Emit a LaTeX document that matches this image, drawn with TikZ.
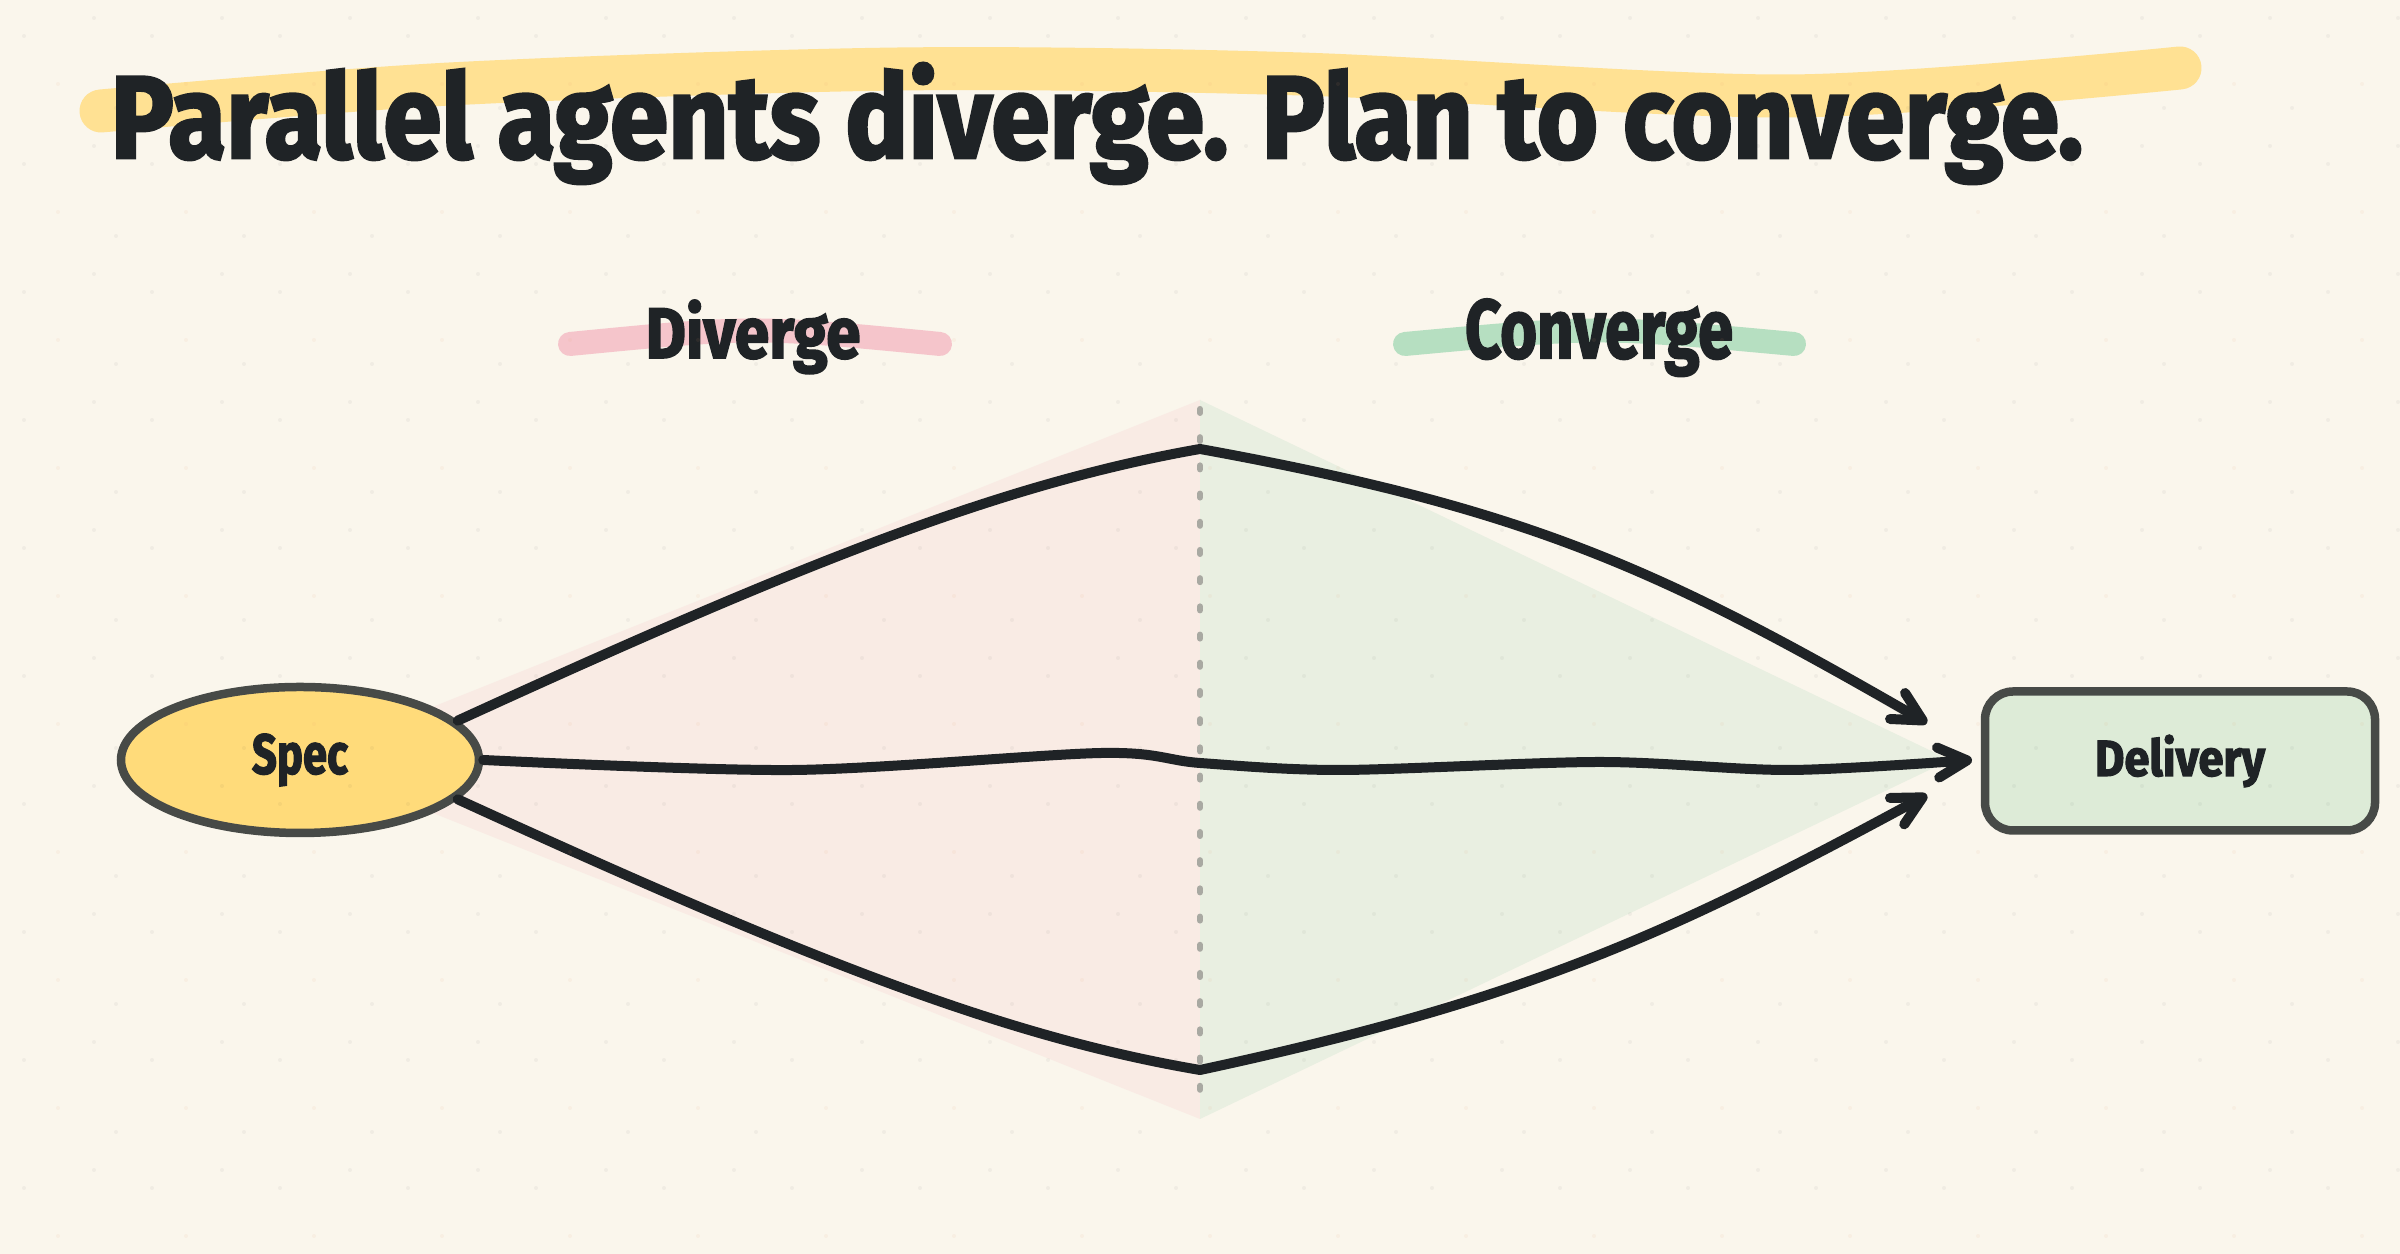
\documentclass[tikz,border=0pt]{standalone}
\usepackage{fontspec}
\usepackage{graphicx}
\newfontfamily\handfont[FakeBold=2.5]{Fira Sans}
\usetikzlibrary{shapes.geometric, arrows.meta}
\definecolor{PaperCream}{HTML}{FAF6EC}
\definecolor{InkDark}{HTML}{1F2326}
\definecolor{DotPeach}{HTML}{E8A070}
\definecolor{MarkerYellow}{HTML}{FFE193}
\definecolor{MarkerPink}{HTML}{F5C5CB}
\definecolor{MarkerGreen}{HTML}{B6DFC1}
\definecolor{ZonePink}{HTML}{F9EBE4}
\definecolor{ZoneGreen}{HTML}{E9EFE1}
\definecolor{SpecYellow}{HTML}{FFDB7A}
\definecolor{DeliveryGreen}{HTML}{DDEBD7}
\definecolor{EdgeGrey}{HTML}{474A47}
\definecolor{SplitGrey}{HTML}{A9A9A2}
\newcommand{\sketchtext}[3]{\resizebox{#1}{#2}{\handfont\bfseries #3}}
\tikzset{
  hilite/.style={line cap=round, line width=#1},
  headlabel/.style={inner sep=0pt, anchor=base, text=InkDark},
  specnode/.style={ellipse, draw=EdgeGrey, fill=SpecYellow, line width=0.85mm, minimum width=3.58cm, minimum height=1.46cm, inner sep=0pt, text=InkDark},
  deliverynode/.style={rectangle, rounded corners=2.8mm, draw=EdgeGrey, fill=DeliveryGreen, line width=0.85mm, minimum width=3.90cm, minimum height=1.39cm, inner sep=0pt, text=InkDark},
  flow/.style={draw=InkDark, line width=1mm, line cap=round, line join=round, -{Straight Barb[length=2.9mm,width=3mm,round]}},
  splitline/.style={draw=SplitGrey, line width=0.6mm, line cap=round, dash pattern=on 0.4mm off 2.42mm}
}

\begin{document}
\begin{tikzpicture}
  % Paper
  \fill[PaperCream] (0,0) rectangle (24,12.54);
  \useasboundingbox (0,0) rectangle (24,12.54);

  % Fan shapes
  \coordinate (specC) at (3.00,4.94);
  \coordinate (splitTop) at (12.00,8.54);
  \coordinate (splitBot) at (12.00,1.35);
  \coordinate (fanIn) at (19.50,4.94);
  \fill[ZonePink] (specC) -- (splitTop) -- (splitBot) -- cycle;
  \fill[ZoneGreen] (splitTop) -- (fanIn) -- (splitBot) -- cycle;

  % Marker strokes
  \draw[hilite=4.3mm, MarkerYellow] plot[smooth] coordinates {(1.01,11.43) (4.5,11.70) (9.0,11.85) (13.0,11.80) (17.9,11.58) (21.80,11.86)};
  \draw[hilite=2.4mm, MarkerPink] (5.70,9.10) .. controls (7.55,9.28) .. (9.40,9.10);
  \draw[hilite=2.4mm, MarkerGreen] (14.05,9.10) .. controls (15.99,9.28) .. (17.94,9.10);

  % Headings
  \node[headlabel, anchor=base west] (title) at (1.10,10.96) {\sketchtext{19.72cm}{0.95cm}{Parallel agents diverge. Plan to converge.}};
  \node[headlabel] (divergeLbl) at (7.53,8.96) {\sketchtext{2.15cm}{0.58cm}{Diverge}};
  \node[headlabel] (convergeLbl) at (15.99,8.96) {\sketchtext{2.68cm}{0.59cm}{Converge}};

  % Split line
  \coordinate (splitA) at (12.00,8.45);
  \coordinate (splitB) at (12.00,1.64);
  \draw[splitline] (splitA) -- (splitB);

  % Nodes
  \node[specnode] (spec) at (specC) {\sketchtext{0.96cm}{0.40cm}{Spec}};
  \node[deliverynode] (delivery) at (21.80,4.93) {\sketchtext{1.70cm}{0.41cm}{Delivery}};

  % Waypoints
  \coordinate (peakTop) at (12.00,8.05);
  \coordinate (peakBot) at (12.00,1.84);
  \coordinate (tipTop) at (19.27,5.31);
  \coordinate (tipMid) at (19.72,4.94);
  \coordinate (tipBot) at (19.27,4.59);
  \coordinate (mA) at (7.94,4.84);
  \coordinate (mB) at (11.02,5.01);
  \coordinate (mC) at (12.00,4.91);
  \coordinate (mD) at (13.41,4.84);
  \coordinate (mE) at (16.00,4.92);
  \coordinate (mF) at (17.90,4.84);

  % Flows
  \draw[flow] (spec.14) .. controls (8.0,6.9) and (10.0,7.7) .. (peakTop)
    .. controls (15.3,7.45) and (16.6,6.85) .. (tipTop);
  \draw[flow] plot[smooth] coordinates {(spec.east) (mA) (mB) (mC) (mD) (mE) (mF) (tipMid)};
  \draw[flow] (spec.-14) .. controls (8.0,2.98) and (10.0,2.18) .. (peakBot)
    .. controls (15.3,2.55) and (16.7,3.2) .. (tipBot);

  % Dot grid
  \foreach \ox/\oy in {1.16/11.46, 0.94/12.36, 0.24/12.18}
    \foreach \i in {0,...,18}
      \foreach \j in {0,...,9}
        \fill[InkDark, opacity=0.045] (\ox+1.28*\i, \oy-1.28*\j) circle (0.02);
  \foreach \i in {0,...,18}
    \foreach \j in {0,...,9}
      \fill[DotPeach, opacity=0.08] (0.58+1.28*\i, 11.70-1.28*\j) circle (0.02);
\end{tikzpicture}
\end{document}
